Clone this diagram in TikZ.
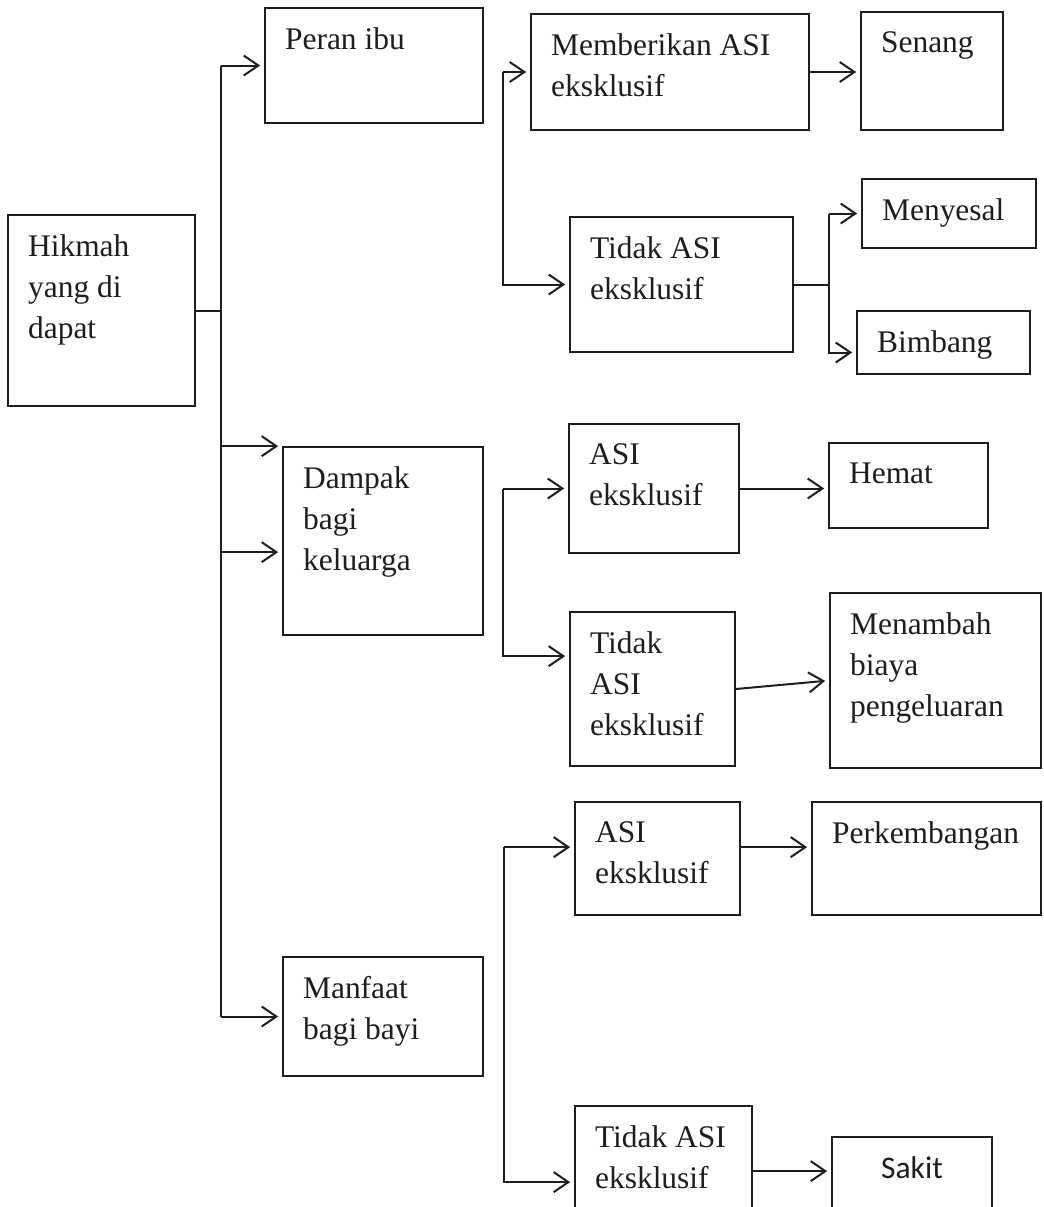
\documentclass[tikz,border=0pt]{standalone}
\usepackage{fontspec}
\setmainfont{Liberation Serif}
\newfontfamily\calibrifont{Carlito}
\usetikzlibrary{arrows.meta, positioning, calc, fit}
\definecolor{cink}{HTML}{1E1E1E}
\tikzset{
  every picture/.style={line width=1.4pt},
  box/.style={draw=cink, rectangle, inner sep=0pt, line width=1.3pt},
  txt/.style={anchor=north west, align=left, inner sep=0pt, xshift=15pt, yshift=-14.6pt, text=cink},
  link/.style={draw=cink, line width=1.5pt},
  arr/.style={link, -{Straight Barb[length=11pt, width=15pt]}, shorten >=3pt},
}

\begin{document}
\begin{tikzpicture}[x=0.75pt, y=-0.75pt, font=\fontsize{23.6}{30.8}\selectfont]
  \useasboundingbox (0,0) rectangle (1044,1207);
  \clip (0,0) rectangle (1044,1207);
  % boxes (corners as on the scan)
  \node[box, fit={(8,215) (195,406)}, label={[txt]north west:Hikmah\\yang di\\dapat}] (hikmah) {};
  \node[box, fit={(265,8) (483,123)}, label={[txt]north west:Peran ibu}] (peran) {};
  \node[box, fit={(283,447) (483,635)}, label={[txt]north west:Dampak\\bagi\\keluarga}] (dampak) {};
  \node[box, fit={(283,957) (483,1076)}, label={[txt]north west:Manfaat\\bagi bayi}] (manfaat) {};
  \node[box, fit={(531,14) (809,130)}, label={[txt]north west:Memberikan ASI\\eksklusif}] (beri) {};
  \node[box, fit={(570,217) (793,352)}, label={[txt]north west:Tidak ASI\\eksklusif}] (tidak1) {};
  \node[box, fit={(569,424) (739,553)}, label={[txt]north west:ASI\\eksklusif}] (asi2) {};
  \node[box, fit={(570,612) (735,766)}, label={[txt]north west:Tidak\\ASI\\eksklusif}] (tidak3) {};
  \node[box, fit={(575,802) (740,915)}, label={[txt]north west:ASI\\eksklusif}] (asi4) {};
  \node[box, fit={(575,1106) (752,1240)}, label={[txt]north west:Tidak ASI\\eksklusif}] (tidak5) {};
  \node[box, fit={(861,12) (1003,130)}, label={[txt]north west:Senang}] (senang) {};
  \node[box, fit={(862,179) (1036,248)}, label={[txt]north west:Menyesal}] (menyesal) {};
  \node[box, fit={(857,311) (1030,374)}, label={[txt]north west:Bimbang}] (bimbang) {};
  \node[box, fit={(829,443) (988,528)}, label={[txt]north west:Hemat}] (hemat) {};
  \node[box, fit={(830,593) (1041,768)}, label={[txt]north west:Menambah\\biaya\\pengeluaran}] (menambah) {};
  \node[box, fit={(812,802) (1041,915)}, label={[txt]north west:Perkembangan}] (perk) {};
  \node[box, fit={(832,1137) (992,1240)},
        label={[anchor=north, inner sep=0pt, yshift=-15pt, text=cink, font=\calibrifont\fontsize{23.6}{30.8}\selectfont]north:Sakit}] (sakit) {};

  % trunks
  \coordinate (t0) at (221,0);
  \coordinate (t1) at (503,0);
  \coordinate (t2) at (503,0);
  \coordinate (t3) at (504,0);
  \coordinate (t4) at (829,0);
  \coordinate (d2) at ($(dampak.north west)+(0,106)$);
  \coordinate (b2) at ($(bimbang.west)+(0,10)$);
  \coordinate (c3) at ($(tidak3.north west)+(0,45)$);
  \coordinate (a4) at ($(asi4.north west)+(0,46)$);
  \coordinate (c5) at ($(tidak5.north west)+(0,77)$);
  \coordinate (s5) at ($(tidak5.north west)+(0,66)$);

  \draw[link] (hikmah.east) -- (t0 |- hikmah.east);
  \draw[link] (t0 |- peran.west) -- (t0 |- manfaat.west);
  \draw[arr] (t0 |- peran.west) -- (peran.west);
  \draw[arr] (t0 |- dampak.north west) -- (dampak.north west);
  \draw[arr] (t0 |- d2) -- (d2);
  \draw[arr] (t0 |- manfaat.west) -- (manfaat.west);

  \draw[arr] (t1 |- beri.west) -- (beri.west);
  \draw[arr] (t1 |- beri.west) -- (t1 |- tidak1.west) -- (tidak1.west);
  \draw[arr] (beri.east) -- (senang.west |- beri.east);
  \draw[link] (tidak1.east) -- (t4 |- tidak1.east);
  \draw[arr] (t4 |- menyesal.west) -- (menyesal.west);
  \draw[arr] (t4 |- menyesal.west) -- (t4 |- b2) -- (b2);

  \draw[arr] (t2 |- asi2.west) -- (asi2.west);
  \draw[arr] (t2 |- asi2.west) -- (t2 |- c3) -- (c3);
  \draw[arr] (asi2.east) -- (hemat.west |- asi2.east);
  \draw[arr] (tidak3.east) -- (menambah.west);

  \draw[arr] (t3 |- a4) -- (a4);
  \draw[arr] (t3 |- a4) -- (t3 |- c5) -- (c5);
  \draw[arr] (asi4.east |- a4) -- (perk.west |- a4);
  \draw[arr] (tidak5.east |- s5) -- (sakit.west |- s5);
\end{tikzpicture}
\end{document}
